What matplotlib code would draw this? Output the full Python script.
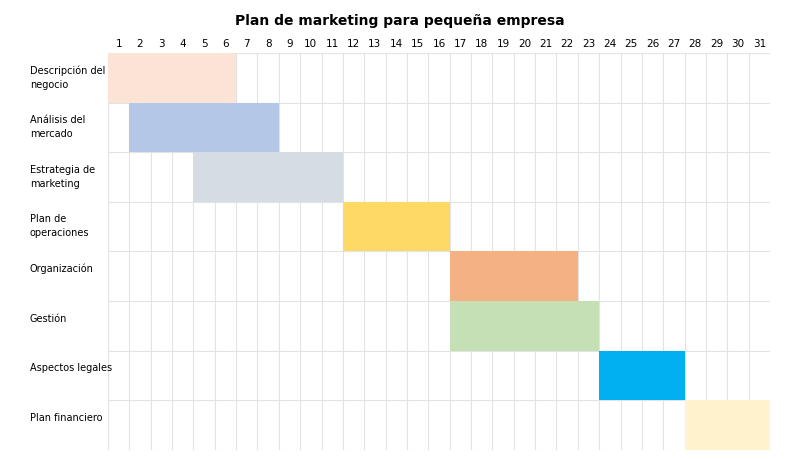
import matplotlib
matplotlib.use("Agg")
import matplotlib.pyplot as plt
from matplotlib.transforms import blended_transform_factory, offset_copy

tasks = ["Descripción del\nnegocio", "Análisis del\nmercado", "Estrategia de\nmarketing",
         "Plan de\noperaciones", "Organización", "Gestión", "Aspectos legales", "Plan financiero"]
start_day = [1, 2, 5, 12, 17, 17, 24, 28]
end_day = [6, 8, 11, 16, 22, 23, 27, 31]
colors = ["#FBE3D6", "#B4C7E7", "#D6DCE4", "#FFD966", "#F4B183", "#C5E0B4", "#00B0F0", "#FFF2CC"]
days = list(range(1, 32))

fig = plt.figure(figsize=(8, 4.59), dpi=100)
ax = fig.add_axes([0.135, 0.0196, 0.8275, 0.865])
n = len(tasks)
for i, (s, e, c) in enumerate(zip(start_day, end_day, colors)):
    ax.barh(i + 0.5, e - s + 1, left=s - 1, height=1, color=c, zorder=3)
ax.set_xlim(0, 31)
ax.set_ylim(n, 0)
for x in range(32):
    ax.axvline(x, color="#E3E3E3", lw=0.8, zorder=2)
for y in range(n + 1):
    ax.axhline(y, color="#E3E3E3", lw=0.8, zorder=2)
for s in ax.spines.values():
    s.set_visible(False)
ax.set_xticks([d - 0.5 for d in days])
ax.set_xticklabels([str(d) for d in days], fontsize=7.5)
ax.xaxis.tick_top()
ax.tick_params(axis="x", length=0, pad=3)
ax.set_yticks([])
tr = blended_transform_factory(ax.transAxes, ax.transData)
tr = offset_copy(tr, fig=fig, y=-9, units="points")
for i, t in enumerate(tasks):
    ax.text(-0.118, i, t, transform=tr, fontsize=7, va="top", ha="left", linespacing=1.5)
fig.text(0.5, 0.955, "Plan de marketing para pequeña empresa", ha="center", va="center",
         fontsize=10, fontweight="bold")
fig.savefig("out.png", dpi=100, facecolor="white")
